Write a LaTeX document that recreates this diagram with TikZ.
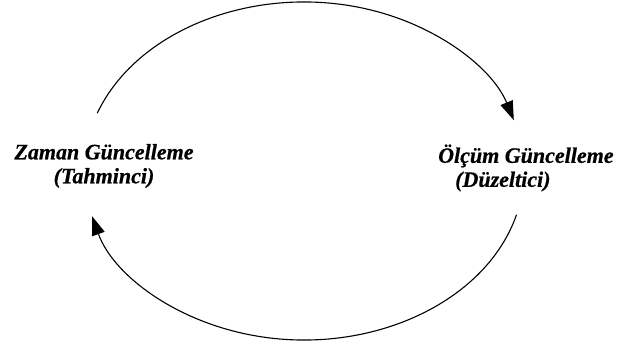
\documentclass[tikz,border=0pt]{standalone}
\usepackage{fontspec}
\setmainfont{Liberation Serif}[BoldItalicFeatures={FakeBold=0.6}]
\usepackage{tikz}
\usetikzlibrary{arrows.meta}
\tikzset{
  lbl/.style={font=\fontsize{22}{24}\selectfont\bfseries\itshape,inner sep=0pt},
  loop/.style={-{Triangle[length=19pt,width=13pt]},line width=1.1pt,draw=black},
}

\begin{document}
\begin{tikzpicture}[x=1pt,y=-1pt]
\useasboundingbox (0,0) rectangle (617,350);

% ==== the two update steps ====
\node[lbl,align=center] (zaman) at (104,166) {Zaman Güncelleme\\(Tahminci)};
\node[lbl,align=left,anchor=west] (olcum) at (438,168)
  {Ölçüm Güncelleme\\\hspace*{17pt}(Düzeltici)};

% ==== cycle (ellipse centre c) ====
\coordinate (c) at (304,171);
\coordinate (zTop) at ([shift={(160:220pt and 169pt)}]c);
\coordinate (oBot) at ([shift={(-15:220pt and 169pt)}]c);

\draw[loop] (zTop) arc[start angle=160,end angle=17.5,x radius=220pt,y radius=169pt];
\draw[loop] (oBot) arc[start angle=-15,end angle=-164.5,x radius=220pt,y radius=169pt];

\end{tikzpicture}
\end{document}
